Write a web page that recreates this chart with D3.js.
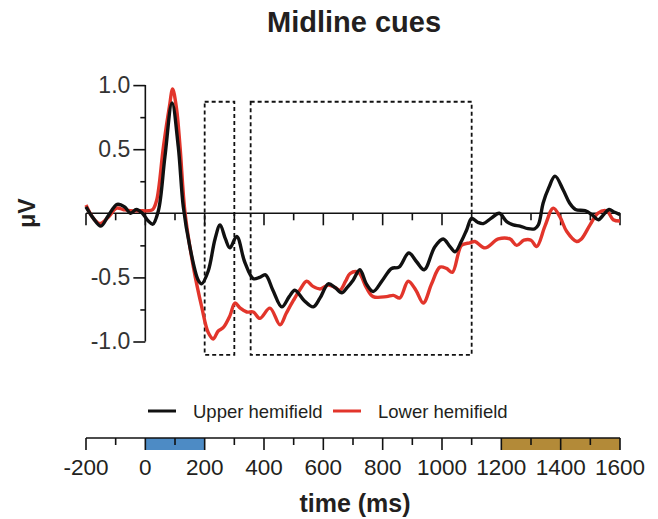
<!DOCTYPE html>
<html><head><meta charset="utf-8">
<script src="https://cdn.jsdelivr.net/npm/d3@7"></script>
<style>body{margin:0;background:#fff}svg{display:block}</style>
</head><body>
<svg id="c" width="658" height="519"></svg>
<script>
// ---- data ----
const title = "Midline cues";
const seriesNames = ["Upper hemifield", "Lower hemifield"];
const seriesColors = ["#111111", "#e2352b"];
const yTicks = [-1.0, -0.5, 0.5, 1.0];
const xTicks = [-200, 0, 200, 400, 600, 800, 1000, 1200, 1400, 1600];
const upperT = [-200,-175,-150,-125,-95,-70,-50,-30,-10,10,25,44,66,90,111,128,150,178,190,212,235,252,270,285,308,335,364,385,405,430,460,485,504,535,566,589,617,640,662,680,701,723,745,768,800,830,855,888,915,940,976,1004,1027,1044,1065,1083,1100,1120,1139,1165,1193,1218,1240,1263,1290,1313,1325,1341,1360,1381,1409,1430,1450,1482,1505,1527,1545,1563,1580,1600];
const upperV = [0.05,-0.04,-0.10,-0.02,0.07,0.05,0.0,0.03,0.0,-0.06,-0.085,0.02,0.44,0.86,0.52,0.05,-0.26,-0.52,-0.55,-0.45,-0.2,-0.09,-0.2,-0.27,-0.18,-0.38,-0.51,-0.5,-0.48,-0.6,-0.73,-0.65,-0.6,-0.68,-0.73,-0.66,-0.55,-0.58,-0.62,-0.58,-0.52,-0.44,-0.55,-0.61,-0.52,-0.43,-0.42,-0.31,-0.38,-0.44,-0.26,-0.2,-0.26,-0.3,-0.22,-0.13,-0.04,-0.07,-0.08,-0.04,0.0,-0.065,-0.09,-0.1,-0.12,-0.12,-0.09,0.08,0.2,0.29,0.18,0.08,0.03,0.02,-0.01,-0.05,-0.01,0.03,0.01,-0.01];
const lowerT = [-200,-175,-153,-125,-97,-75,-50,-20,10,25,38,61,81,92,105,117,134,162,190,212,229,245,263,285,302,320,342,364,386,420,454,475,499,520,544,565,589,617,640,656,675,690,718,745,768,813,836,858,886,912,937,965,993,1015,1035,1066,1094,1111,1145,1190,1229,1252,1276,1300,1319,1347,1375,1398,1420,1454,1470,1499,1525,1555,1577,1600];
const lowerV = [0.065,-0.04,-0.08,-0.03,0.04,0.03,0.02,0.02,0.02,0.03,0.1,0.52,0.83,0.97,0.82,0.52,0.0,-0.42,-0.73,-0.93,-0.98,-0.92,-0.89,-0.8,-0.70,-0.74,-0.77,-0.77,-0.82,-0.74,-0.87,-0.78,-0.68,-0.6,-0.53,-0.57,-0.59,-0.56,-0.58,-0.6,-0.53,-0.47,-0.46,-0.58,-0.65,-0.65,-0.64,-0.66,-0.53,-0.60,-0.70,-0.55,-0.42,-0.43,-0.46,-0.25,-0.23,-0.22,-0.27,-0.2,-0.2,-0.25,-0.21,-0.21,-0.26,-0.1,0.04,-0.03,-0.14,-0.22,-0.2,-0.09,0.0,0.02,-0.05,-0.06];
const windowStart = [200, 355];
const windowEnd = [300, 1100];
const windowTop = 0.87, windowBottom = -1.105;
const periodStart = [0, 1200];
const periodEnd = [200, 1600];
const periodColors = ["#4d8bc5", "#b38a38"];
const xLabel = "time (ms)";
const yLabel = "μV";

// ---- drawing ----
const svg = d3.select("#c");
const font = "'Liberation Sans', Arial, Helvetica, sans-serif";
const txt = "#231f20";
const x = d3.scaleLinear().domain([-200, 1600]).range([86, 620]);
const y = d3.scaleLinear().domain([-1, 1]).range([341.5, 85.1]);

svg.append("text").attr("x", 354).attr("y", 32).attr("text-anchor", "middle")
  .attr("font-family", font).attr("font-weight", "bold").attr("font-size", 29).attr("fill", txt).text(title);

// y axis
const yAxis = d3.axisLeft(y).tickValues(yTicks).tickSize(12).tickPadding(3).tickFormat(d => d.toFixed(1));
const ga = svg.append("g").attr("transform", `translate(${x(0)},0)`).call(yAxis);
ga.select(".domain").attr("stroke", "#111").attr("stroke-width", 1.6).attr("d", `M0,${y(1)}V${y(-1)}`);
ga.selectAll(".tick line").attr("stroke", "#111").attr("stroke-width", 1.6);
ga.selectAll(".tick text").attr("font-family", font).attr("font-size", 23).attr("fill", "#333");
const gm = svg.append("g").attr("transform", `translate(${x(0)},0)`)
  .call(d3.axisLeft(y).tickValues([-0.75, -0.25, 0.25, 0.75]).tickSize(5).tickFormat(""));
gm.select(".domain").remove();
gm.selectAll(".tick line").attr("stroke", "#111").attr("stroke-width", 1.6);

// zero line with ticks
const zt = d3.range(-200, 1601, 100);
const gz = svg.append("g").attr("transform", `translate(0,${y(0)})`);
gz.append("line").attr("x1", x(-200)).attr("x2", x(1600)).attr("stroke", "#111").attr("stroke-width", 1.6);
gz.selectAll("line.t").data(zt).join("line").attr("class", "t")
  .attr("x1", d => x(d)).attr("x2", d => x(d)).attr("y1", 0).attr("y2", d => d % 200 === 0 ? 12 : 7)
  .attr("stroke", "#111").attr("stroke-width", 1.6);

// dashed windows
svg.selectAll("rect.win").data(windowStart).join("rect").attr("class", "win")
  .attr("x", (d) => x(d)).attr("width", (d, i) => x(windowEnd[i]) - x(d))
  .attr("y", y(windowTop)).attr("height", y(windowBottom) - y(windowTop))
  .attr("fill", "none").attr("stroke", "#111").attr("stroke-width", 1.8).attr("stroke-dasharray", "4,3");

// curves
const line = d3.line().x(d => x(d[0])).y(d => y(d[1])).curve(d3.curveCatmullRom.alpha(0.5));
const series = [d3.zip(upperT, upperV), d3.zip(lowerT, lowerV)];
[1, 0].forEach(i => {
  svg.append("path").datum(series[i]).attr("d", line).attr("fill", "none")
    .attr("stroke", seriesColors[i]).attr("stroke-width", 3.4).attr("stroke-linejoin", "round");
});

// legend
const lg = svg.append("g").attr("font-family", font).attr("font-size", 18.5).attr("fill", txt);
const lx = [148, 333];
seriesNames.forEach((n, i) => {
  lg.append("line").attr("x1", lx[i]).attr("x2", lx[i] + 28).attr("y1", 411).attr("y2", 411)
    .attr("stroke", seriesColors[i]).attr("stroke-width", 3);
  lg.append("text").attr("x", lx[i] + 45).attr("y", 418).text(n);
});

// bottom time axis with periods
const by = 438;
svg.selectAll("rect.per").data(periodStart).join("rect").attr("class", "per")
  .attr("x", d => x(d)).attr("width", (d, i) => x(periodEnd[i]) - x(d))
  .attr("y", by).attr("height", 12).attr("fill", (d, i) => periodColors[i]);
const gb = svg.append("g").attr("transform", `translate(0,${by})`);
gb.append("line").attr("x1", x(-200)).attr("x2", x(1600)).attr("stroke", "#111").attr("stroke-width", 1.6);
gb.selectAll("line.t").data(zt).join("line").attr("class", "t")
  .attr("x1", d => x(d)).attr("x2", d => x(d)).attr("y1", 0).attr("y2", d => d % 200 === 0 ? 12 : 7)
  .attr("stroke", "#111").attr("stroke-width", 1.6);
gb.selectAll("text").data(xTicks).join("text").attr("x", d => x(d)).attr("y", 37)
  .attr("text-anchor", "middle").attr("font-family", font).attr("font-size", 22.5).attr("fill", txt).text(d => d);

svg.append("text").attr("x", 355).attr("y", 512).attr("text-anchor", "middle")
  .attr("font-family", font).attr("font-weight", "bold").attr("font-size", 25).attr("fill", txt).text(xLabel);
svg.append("text").attr("transform", "translate(35,213) rotate(-90)").attr("text-anchor", "middle")
  .attr("font-family", font).attr("font-weight", "bold").attr("font-size", 23).attr("fill", txt).text(yLabel);
</script>
</body></html>
